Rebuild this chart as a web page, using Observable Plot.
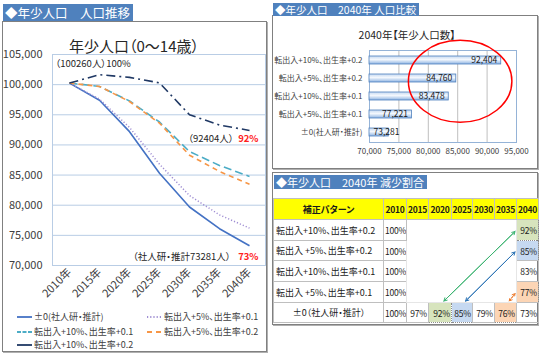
<!DOCTYPE html>
<html><head><meta charset="utf-8">
<script src="https://cdn.jsdelivr.net/npm/d3@7"></script>
<script src="https://cdn.jsdelivr.net/npm/@observablehq/plot@0.6"></script>
<style>
body{margin:0;background:#fff;font-family:"Noto Sans CJK JP","Noto Sans",sans-serif;font-feature-settings:"palt";}
#root{position:relative;width:540px;height:353px;overflow:hidden;background:#fff;}
.panel{position:absolute;box-sizing:border-box;border:1px solid #808080;box-shadow:1px 1px 0 #b0b0b0;background:#fff;}
.hdr{position:absolute;box-sizing:border-box;background:#4F81BD;color:#fff;white-space:nowrap;padding:0 3px 0 2px;}
.abs{position:absolute;}
table.rt{position:absolute;border-collapse:collapse;table-layout:fixed;font-size:8.5px;color:#1a1a1a;}
table.rt td{border:1px solid #bfbfbf;padding:0 1px;overflow:hidden;white-space:nowrap;}
.leg{position:absolute;font-size:9px;color:#404040;white-space:nowrap;display:flex;align-items:center;}
</style></head><body><div id="root"></div>
<script>
// ---------- DATA ----------
const years = ["2010年","2015年","2020年","2025年","2030年","2035年","2040年"];
const seriesNames = ["±0(社人研・推計)","転出入+5%、出生率+0.1","転出入+10%、出生率+0.1","転出入+5%、出生率+0.2","転出入+10%、出生率+0.2"];
const sBase  = [100260, 97400, 92200, 85300, 79700, 76100, 73281];
const sM5B1  = [100260, 97600, 92900, 86800, 81600, 78400, 76200];
const sM10B1 = [100260, 99700, 97300, 93800, 88900, 86600, 84760];
const sM5B2  = [100260, 99700, 97200, 93600, 88300, 85600, 83478];
const sM10B2 = [100260, 101650, 101200, 100300, 95000, 93300, 92404];
const seriesValues = [sBase, sM5B1, sM10B1, sM5B2, sM10B2];
const yTicks = [70000, 75000, 80000, 85000, 90000, 95000, 100000, 105000];

const barCats = ["転出入+10%、出生率+0.2","転出入+5%、出生率+0.2","転出入+10%、出生率+0.1","転出入+5%、出生率+0.1","±0(社人研・推計)"];
const barVals = [92404, 84760, 83478, 77221, 73281];
const barTicks = [70000, 75000, 80000, 85000, 90000, 95000];

const tableYears = ["2010","2015","2020","2025","2030","2035","2040"];
const tablePatterns = ["転出入+10%、出生率+0.2","転出入 +5%、出生率+0.2","転出入+10%、出生率+0.1","転出入 +5%、出生率+0.1","±0（社人研・推計）"];
const tableRates = [
  [100, null, null, null, null, null, 92],
  [100, null, null, null, null, null, 85],
  [100, null, null, null, null, null, 83],
  [100, null, null, null, null, null, 77],
  [100, 97, 92, 85, 79, 76, 73]
];
const tableHighlights = [
  {row:0, col:6, fill:"#D7E4BD"}, {row:1, col:6, fill:"#C6D9F1"}, {row:3, col:6, fill:"#FCD5B5"},
  {row:4, col:2, fill:"#D7E4BD"}, {row:4, col:3, fill:"#C6D9F1"}, {row:4, col:5, fill:"#FCD5B5"}
];
const tableArrows = [
  {from:[4,2], to:[0,6], color:"#3CB371", dash:null},
  {from:[4,3], to:[1,6], color:"#2E75B6", dash:null},
  {from:[4,5], to:[3,6], color:"#ED7D31", dash:"2,1.5"}
];

// ---------- STYLES ----------
const JP = '"Noto Sans CJK JP","Noto Sans",sans-serif';
const seriesStyles = [
  {color:"#4472C4", dash:null,      width:1.6},
  {color:"#A08FD3", dash:"1.2,2",   width:1.5},
  {color:"#4BACC6", dash:"8,4",     width:1.6},
  {color:"#F79646", dash:"5,4",     width:1.6},
  {color:"#1F3864", dash:"9,4,2,4", width:1.6}
];

const root = d3.select("#root");
function box(cls, x, y, w, h){
  const b = root.append("div").attr("class", cls).style("left", x+"px").style("top", y+"px");
  if (w != null) b.style("width", w+"px");
  if (h != null) b.style("height", h+"px");
  return b;
}
// panels
box("panel", 2, 21, 265, 331);
box("hdr", 3, 4, null, 17).style("font-size","12.5px").style("line-height","17px").text("◆年少人口　人口推移");
box("panel", 272, 15, 266, 154);
box("hdr", 273, 3, null, 13).style("font-size","10.5px").style("line-height","13px").text("◆年少人口　2040年 人口比較");
box("panel", 272, 172, 266, 153);
box("hdr", 274, 175, null, 14).style("font-size","11px").style("line-height","14px").text("◆年少人口　2040年 減少割合");

// ---------- LEFT LINE CHART ----------
box("abs", 0, 36, 268, 20).style("text-align","center").style("font-size","15px").style("color","#262626")
  .style("line-height","20px").text("年少人口（0〜14歳）");

const lineRows = seriesNames.flatMap((name, i) => seriesValues[i].map((v, j) => ({series:name, year:years[j], value:v})));
const lineMarks = seriesNames.map((name, i) => Plot.line(lineRows.filter(d => d.series === name), {
  x:"year", y:"value", stroke:seriesStyles[i].color, strokeWidth:seriesStyles[i].width,
  strokeDasharray:seriesStyles[i].dash, strokeLinecap:"butt"
}));
const notes = [
  {year:"2010年", value:sM10B2[0], text:"（"+sM10B2[0]+"人）100%", dx:-14, dy:-19, anchor:"start", fill:"#262626"},
  {year:"2040年", value:sM10B2[6], text:"（"+sM10B2[6]+"人）", dx:-16, dy:9, anchor:"end", fill:"#262626"},
  {year:"2040年", value:sM10B2[6], text:"92%", dx:9, dy:9, anchor:"end", fill:"#FF2020"},
  {year:"2040年", value:sBase[6], text:"（社人研・推計"+sBase[6]+"人）", dx:-19, dy:11, anchor:"end", fill:"#262626"},
  {year:"2040年", value:sBase[6], text:"73%", dx:9, dy:11, anchor:"end", fill:"#FF2020"}
];
const noteMarks = notes.map(n => Plot.text([n], {x:"year", y:"value", text:"text", dx:n.dx, dy:n.dy,
  textAnchor:n.anchor, fill:n.fill, fontSize:9.5, fontWeight: n.fill === "#FF2020" ? "bold" : "normal"}));

const leftChart = Plot.plot({
  width:268, height:300,
  marginLeft:52, marginRight:3, marginTop:34, marginBottom:55,
  style:{fontFamily:JP, fontSize:"11px", color:"#404040", background:"transparent", fontFeatureSettings:"'palt'"},
  x:{type:"point", domain:years, padding:0.5, label:null, tickSize:0, tickRotate:-45, tickPadding:5},
  y:{domain:[70000,105000], ticks:yTicks, tickFormat:d3.format(","), label:null, tickSize:0, tickPadding:10},
  marks:[
    Plot.gridY(yTicks, {stroke:"#B9CDE5", strokeOpacity:1}),
    Plot.frame({stroke:"#B9CDE5"}),
    ...lineMarks,
    ...noteMarks
  ]
});
box("abs", 0, 20, 268, 300).node().appendChild(leftChart);

// legend
const legendPos = [[17,310],[147,310],[17,325],[147,325],[17,338]];
seriesNames.forEach((name, i) => {
  const item = box("leg", legendPos[i][0], legendPos[i][1], 130, 13);
  const sw = item.append("svg").attr("width", 15).attr("height", 6).style("margin-right","2px");
  sw.append("line").attr("x1",0).attr("x2",15).attr("y1",3).attr("y2",3)
    .attr("stroke", seriesStyles[i].color).attr("stroke-width", 1.8)
    .attr("stroke-dasharray", seriesStyles[i].dash === "9,4,2,4" ? null : (seriesStyles[i].dash === "8,4" ? "4,1.5" : seriesStyles[i].dash));
  item.append("span").text(name);
});

// ---------- BAR CHART ----------
box("abs", 272, 27, 266, 16).style("text-align","center").style("font-size","10.5px").style("color","#262626")
  .style("line-height","16px").style("padding-left","2px").text("2040年【年少人口数】");

const barRows = barCats.map((c, i) => ({cat:c, value:barVals[i]}));
const barBase = barTicks[0];
const ellipseNote = {cx:85500, rx:8800, cyFrac:0.34, ryFrac:0.445};
const gradDefs = () => {
  const g = d3.create("svg:g");
  const lg = g.append("defs").append("linearGradient").attr("id","barGrad").attr("x1",0).attr("x2",0).attr("y1",0).attr("y2",1);
  lg.append("stop").attr("offset","0%").attr("stop-color","#C6D9F1");
  lg.append("stop").attr("offset","45%").attr("stop-color","#F4F8FD");
  lg.append("stop").attr("offset","100%").attr("stop-color","#8DB3E2");
  return g.node();
};
const ellipseMark = (index, scales, values, dims) => {
  const ph = dims.height - dims.marginTop - dims.marginBottom;
  const cx = scales.x(ellipseNote.cx);
  const rx = scales.x(ellipseNote.cx + ellipseNote.rx) - cx;
  return d3.create("svg:ellipse")
    .attr("cx", cx).attr("cy", dims.marginTop + ellipseNote.cyFrac * ph)
    .attr("rx", rx).attr("ry", ellipseNote.ryFrac * ph)
    .attr("fill","none").attr("stroke","#FF0000").attr("stroke-width",1.5).node();
};
const fmt = d3.format(",");
const barChart = Plot.plot({
  width:266, height:150,
  marginLeft:97, marginRight:22, marginTop:35, marginBottom:23,
  style:{fontFamily:JP, fontSize:"8px", color:"#404040", background:"transparent", fontFeatureSettings:"'palt'"},
  x:{domain:[barTicks[0], barTicks[barTicks.length-1]], ticks:barTicks, tickFormat:fmt, tickSize:0, tickPadding:6, label:null},
  y:{domain:barCats, paddingInner:0.54, paddingOuter:0.26, tickSize:0, tickPadding:7, label:null},
  marks:[
    gradDefs,
    Plot.gridX(barTicks, {stroke:"#BFBFBF", strokeOpacity:1}),
    Plot.frame({stroke:"#95B3D7"}),
    Plot.barX(barRows, {x1:() => barBase, x2:"value", y:"cat", fill:"url(#barGrad)", stroke:"#4F81BD", strokeWidth:0.8}),
    Plot.text(barRows.filter(d => d.value - barBase > 5000), {x:"value", y:"cat", text:d => fmt(d.value), textAnchor:"end", dx:-4, fill:"#1a1a1a", fontSize:8.5}),
    Plot.text(barRows.filter(d => d.value - barBase <= 5000), {x:() => barBase, y:"cat", text:d => fmt(d.value), textAnchor:"start", dx:4, fill:"#1a1a1a", fontSize:8.5}),
    ellipseMark
  ]
});
box("abs", 272, 15, 266, 150).node().appendChild(barChart);

// ---------- TABLE ----------
const colW = [110, 23, 22, 23, 21, 22, 22, 22];
const rowH = [21, 21, 20, 21, 21, 20];
const tbl = root.append("table").attr("class","rt").style("left","273px").style("top","198px").style("width","265px");
const cg = tbl.append("colgroup");
colW.forEach(w => cg.append("col").style("width", w+"px"));
const hr = tbl.append("tr").style("height", rowH[0]+"px");
hr.append("td").style("background","#FFFF00").style("text-align","center").style("font-weight","bold").style("font-size","9px").text("補正パターン");
tableYears.forEach(y => hr.append("td").style("background","#FFFF00").style("text-align","center").style("font-weight","bold")
  .style("padding","0").style("letter-spacing","-0.3px").text(y));
const cellNodes = [];
tablePatterns.forEach((p, r) => {
  const tr = tbl.append("tr").style("height", rowH[r+1]+"px");
  const last = r === tablePatterns.length - 1;
  tr.append("td").style("text-align", last ? "center" : "left").style("font-size","9px").style("padding-left","2px").text(p);
  cellNodes[r] = [];
  tableRates[r].forEach((v, c) => {
    if (v === null) {
      if (r === 0 && c === 1) {
        tr.append("td").attr("colspan", 5).attr("rowspan", 4).style("border-color","#e6e6e6");
      }
      return;
    }
    const td = tr.append("td").style("text-align","right").style("letter-spacing","-0.2px").text(v + "%");
    const h = tableHighlights.find(h => h.row === r && h.col === c);
    if (h) td.style("background", h.fill).style("border","1px dotted #8c8c8c");
    cellNodes[r][c] = td.node();
  });
});

const rootRect = document.getElementById("root").getBoundingClientRect();
const rel = n => { const b = n.getBoundingClientRect(); return {x:b.left - rootRect.left, y:b.top - rootRect.top, w:b.width, h:b.height}; };
const arrowRows = tableArrows.map(a => {
  const s = rel(cellNodes[a.from[0]][a.from[1]]);
  const t = rel(cellNodes[a.to[0]][a.to[1]]);
  return {x1:s.x + s.w * 0.65, y1:s.y - 2, x2:t.x - 2, y2:t.y + t.h * 0.55, color:a.color, dash:a.dash};
});
const arrowMarks = arrowRows.flatMap(a => [
  Plot.arrow([a], {x1:"x1", y1:"y1", x2:"x2", y2:"y2", stroke:a.color, strokeWidth:1, headLength:5, strokeDasharray:a.dash}),
  Plot.arrow([a], {x1:"x2", y1:"y2", x2:"x1", y2:"y1", stroke:a.color, strokeWidth:1, headLength:5, strokeDasharray:a.dash})
]);
const overlay = Plot.plot({
  width:540, height:353, margin:0,
  x:{type:"identity", axis:null}, y:{type:"identity", axis:null},
  style:{background:"transparent"},
  marks: arrowMarks
});
box("abs", 0, 0, 540, 353).style("pointer-events","none").node().appendChild(overlay);
</script></body></html>
